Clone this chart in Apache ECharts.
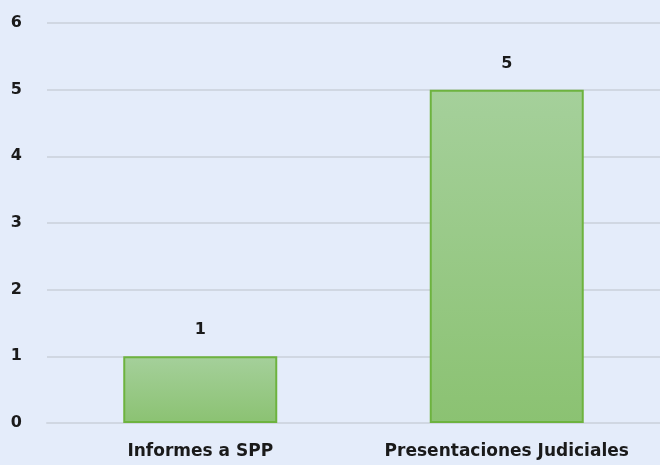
<!DOCTYPE html>
<html>
<head>
<meta charset="utf-8">
<script src="https://cdn.jsdelivr.net/npm/echarts@6/dist/echarts.min.js"></script>
<style>
html, body { margin: 0; padding: 0; background: #e4ecfa; }
#chart { width: 660px; height: 465px; }
</style>
</head>
<body>
<div id="chart"></div>
<script>
var categories = ['Informes a SPP', 'Presentaciones Judiciales'];
var values = [1, 5];

var dom = document.getElementById("chart");
var myChart = echarts.init(dom);

var option = {
    backgroundColor: '#e4ecfa',
    animation: false,
    grid: {
        left: 47,
        right: -4,
        top: 23,
        bottom: 42
    },
    xAxis: {
        type: 'category',
        data: categories,
        axisTick: { show: false },
        axisLine: { lineStyle: { color: '#d0d7e2', width: 2 } },
        axisLabel: {
            interval: 0,
            hideOverlap: false,
            color: '#1a1a1a',
            fontFamily: 'DejaVu Sans',
            fontWeight: 'bold',
            fontSize: 17,
            margin: 20
        }
    },
    yAxis: {
        type: 'value',
        min: 0,
        max: 6,
        interval: 1,
        axisLine: { show: false },
        axisTick: { show: false },
        splitLine: { lineStyle: { color: '#d0d7e2', width: 2 } },
        axisLabel: {
            color: '#1a1a1a',
            fontFamily: 'DejaVu Sans',
            fontWeight: 'bold',
            fontSize: 16,
            margin: 25
        }
    },
    series: [{
        type: 'bar',
        data: values,
        barWidth: 154,
        itemStyle: {
            color: new echarts.graphic.LinearGradient(0, 0, 0, 1, [
                { offset: 0, color: '#a5d09b' },
                { offset: 1, color: '#8bc272' }
            ]),
            borderColor: '#6db33f',
            borderWidth: 2
        },
        label: {
            show: true,
            position: 'top',
            distance: 18,
            color: '#1a1a1a',
            fontFamily: 'DejaVu Sans',
            fontWeight: 'bold',
            fontSize: 16
        }
    }]
};

myChart.setOption(option, true);
</script>
</body>
</html>
